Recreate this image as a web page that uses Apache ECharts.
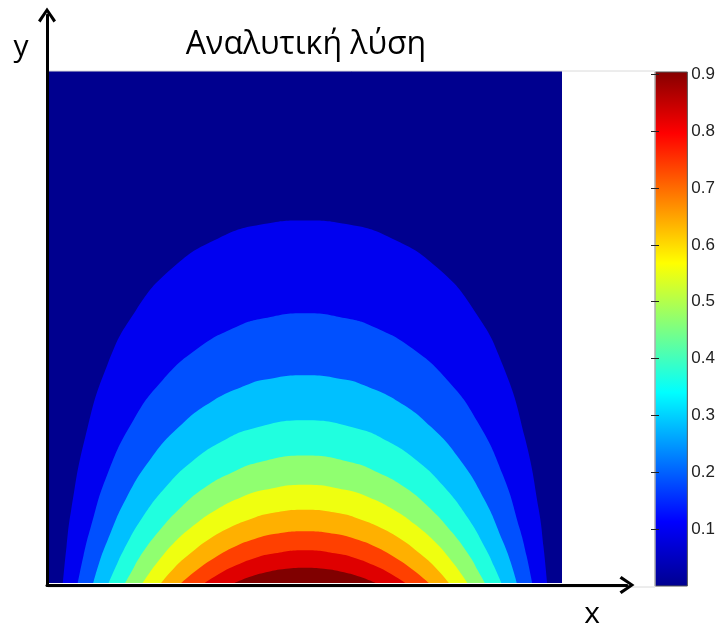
<!DOCTYPE html>
<html>
<head>
<meta charset="utf-8">
<title>Αναλυτική λύση</title>
<script src="https://cdn.jsdelivr.net/npm/echarts@6/dist/echarts.min.js"></script>
<style>
html, body { margin: 0; padding: 0; background: #fff; }
#chart { width: 718px; height: 629px; }
</style>
</head>
<body>
<div id="chart"></div>
<script>
// contour lines, [x, y] on the unit square (outer -> inner)
const contour1 = [[0.029,0],[0.036,0.071],[0.045,0.142],[0.072,0.283],[0.115,0.425],[0.170,0.531],[0.243,0.616],[0.331,0.673],[0.420,0.701],[0.5,0.708],[0.580,0.701],[0.669,0.673],[0.757,0.616],[0.830,0.531],[0.885,0.425],[0.928,0.283],[0.955,0.142],[0.964,0.071],[0.971,0]]
const contour2 = [[0.058,0],[0.069,0.053],[0.082,0.105],[0.115,0.211],[0.165,0.316],[0.222,0.395],[0.291,0.458],[0.366,0.500],[0.420,0.517],[0.5,0.527],[0.580,0.517],[0.634,0.500],[0.709,0.458],[0.778,0.395],[0.835,0.316],[0.885,0.211],[0.918,0.105],[0.931,0.053],[0.942,0]]
const contour3 = [[0.088,0],[0.100,0.041],[0.115,0.081],[0.151,0.163],[0.201,0.244],[0.255,0.305],[0.318,0.354],[0.385,0.386],[0.420,0.397],[0.5,0.406],[0.580,0.397],[0.615,0.386],[0.682,0.354],[0.745,0.305],[0.799,0.244],[0.849,0.163],[0.885,0.081],[0.900,0.041],[0.912,0]]
const contour4 = [[0.118,0],[0.132,0.032],[0.147,0.064],[0.183,0.127],[0.232,0.191],[0.282,0.239],[0.339,0.277],[0.399,0.302],[0.5,0.318],[0.601,0.302],[0.661,0.277],[0.718,0.239],[0.768,0.191],[0.817,0.127],[0.853,0.064],[0.868,0.032],[0.882,0]]
const contour5 = [[0.150,0],[0.164,0.025],[0.178,0.050],[0.214,0.099],[0.260,0.149],[0.306,0.187],[0.358,0.216],[0.411,0.236],[0.5,0.249],[0.589,0.236],[0.642,0.216],[0.694,0.187],[0.740,0.149],[0.786,0.099],[0.822,0.050],[0.836,0.025],[0.850,0]]
const contour6 = [[0.184,0],[0.197,0.019],[0.211,0.038],[0.244,0.077],[0.287,0.115],[0.329,0.144],[0.375,0.167],[0.422,0.182],[0.5,0.192],[0.578,0.182],[0.625,0.167],[0.671,0.144],[0.713,0.115],[0.756,0.077],[0.789,0.038],[0.803,0.019],[0.816,0]]
const contour7 = [[0.220,0],[0.245,0.029],[0.276,0.057],[0.314,0.086],[0.351,0.107],[0.392,0.124],[0.433,0.136],[0.5,0.143],[0.567,0.136],[0.608,0.124],[0.649,0.107],[0.686,0.086],[0.724,0.057],[0.755,0.029],[0.780,0]]
const contour8 = [[0.259,0],[0.289,0.025],[0.325,0.050],[0.363,0.071],[0.402,0.086],[0.443,0.096],[0.5,0.101],[0.557,0.096],[0.598,0.086],[0.637,0.071],[0.675,0.050],[0.711,0.025],[0.741,0]]
const contour9 = [[0.305,0],[0.335,0.019],[0.367,0.035],[0.400,0.048],[0.436,0.057],[0.5,0.064],[0.564,0.057],[0.600,0.048],[0.633,0.035],[0.665,0.019],[0.695,0]]
const contour10 = [[0.363,0],[0.393,0.012],[0.424,0.021],[0.456,0.027],[0.5,0.030],[0.544,0.027],[0.576,0.021],[0.607,0.012],[0.637,0]]

const contours = [contour1, contour2, contour3, contour4, contour5, contour6, contour7, contour8, contour9, contour10]
// fill colour of each band, outside band first
const bandColors = ['#00008F', '#0000F0', '#0050FF', '#00C0FF', '#20FFDF', '#90FF70', '#EFFF10', '#FFB000', '#FF4000', '#DF0000', '#800000']
const colorbarTicks = [0.1, 0.2, 0.3, 0.4, 0.5, 0.6, 0.7, 0.8, 0.9]
const colorbarMax = 0.904

const myChart = echarts.init(document.getElementById('chart'))

// open "V" head for the axis arrows (drawn pointing up, echarts turns it)
const arrowHead = 'path://M9,0 L18,13 L15.5,15 L9,5 L2.5,15 L0,13 Z'
const font = '"Open Sans", "Noto Sans", sans-serif'

const hiddenAxis = (gridIndex) => ({ type: 'value', gridIndex: gridIndex, min: 0, max: 1, show: false })

const arrowAxis = (gridIndex) => ({
  type: 'value', gridIndex: gridIndex, min: 0, max: 1, z: 10,
  axisLine: { show: true, symbol: ['none', arrowHead], symbolSize: [18, 15], lineStyle: { color: '#000', width: 3 } },
  axisTick: { show: false }, axisLabel: { show: false }, splitLine: { show: false }
})

const option = {
  animation: false,
  backgroundColor: '#fff',
  grid: [
    // 0: contour field
    { left: 48, top: 71, width: 514, height: 512, show: true, backgroundColor: bandColors[0], borderWidth: 0 },
    // 1: axis arrows
    { left: 47, top: 15, right: 91, bottom: 44 },
    // 2: colorbar
    {
      left: 655, top: 72, width: 35, height: 514, show: true, borderColor: '#555', borderWidth: 1,
      backgroundColor: new echarts.graphic.LinearGradient(0, 1, 0, 0, [
        { offset: 0, color: '#00008F' },
        { offset: 0.126, color: '#0000FF' },
        { offset: 0.377, color: '#00FFFF' },
        { offset: 0.628, color: '#FFFF00' },
        { offset: 0.88, color: '#FF0000' },
        { offset: 1, color: '#850000' }
      ])
    },
    // 3: faint axes box
    { left: 48, top: 71, right: 63, bottom: 42, show: true, borderColor: '#dadada', borderWidth: 1 }
  ],
  xAxis: [hiddenAxis(0), arrowAxis(1), hiddenAxis(2), hiddenAxis(3)],
  yAxis: [
    hiddenAxis(0),
    arrowAxis(1),
    {
      type: 'value', gridIndex: 2, position: 'right', min: 0, max: colorbarMax,
      axisLine: { show: false },
      axisTick: { show: true, inside: true, length: 4, customValues: colorbarTicks, lineStyle: { color: '#222' } },
      axisLabel: { show: true, customValues: colorbarTicks, margin: 4, color: '#222', fontSize: 17, fontFamily: '"Liberation Sans", Arial, sans-serif' },
      splitLine: { show: false }
    },
    {
      type: 'value', gridIndex: 2, position: 'left', min: 0, max: colorbarMax,
      axisLine: { show: false },
      axisTick: { show: true, inside: true, length: 4, customValues: colorbarTicks, lineStyle: { color: '#222' } },
      axisLabel: { show: false },
      splitLine: { show: false }
    },
    hiddenAxis(3)
  ],
  graphic: [
    { type: 'text', x: 306, y: 45, style: { text: 'Αναλυτική λύση', font: '32px ' + font, fill: '#000', align: 'center', verticalAlign: 'middle' } },
    { type: 'text', x: 21, y: 47, style: { text: 'y', font: '30px ' + font, fill: '#000', align: 'center', verticalAlign: 'middle' } },
    { type: 'text', x: 592, y: 614, style: { text: 'x', font: '30px ' + font, fill: '#000', align: 'center', verticalAlign: 'middle' } }
  ],
  series: contours.map((pts, i) => ({
    type: 'line',
    xAxisIndex: 0,
    yAxisIndex: 0,
    data: pts,
    smooth: 0.5,
    showSymbol: false,
    silent: true,
    lineStyle: { width: 0 },
    areaStyle: { color: bandColors[i + 1], opacity: 1 }
  }))
}

myChart.setOption(option)
window.addEventListener('resize', () => myChart.resize())
</script>
</body>
</html>
